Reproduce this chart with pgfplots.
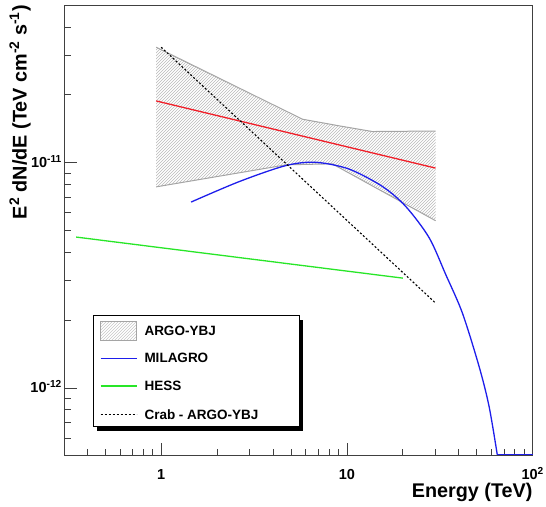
\documentclass[border=0pt]{standalone}
\usepackage{fontspec}
\setmainfont{Liberation Sans}
\usepackage{pgfplots}
\pgfplotsset{compat=1.18}
\usetikzlibrary{patterns}

\definecolor{argoRed}{RGB}{240,30,40}
\definecolor{milaBlue}{RGB}{30,30,235}
\definecolor{hessGreen}{RGB}{40,230,40}
\definecolor{bandGray}{RGB}{165,165,165}
\definecolor{hatchGray}{RGB}{185,185,185}

\begin{document}
\begin{tikzpicture}
\begin{axis}[
  xmode=log, ymode=log,
  scale only axis,
  width=468.7pt, height=450.7pt,
  xmin=0.3, xmax=100, ymin=5e-13, ymax=5e-11,
  clip mode=individual,
  axis line style={black!75, line width=0.8pt},
  tick style={black!75, line width=0.7pt},
  tick align=inside, tick pos=left,
  major tick length=13pt, minor tick length=7pt,
  xtick={1,10,100}, xticklabels={1,10,10\textsuperscript{2}},
  minor xtick={0.3,0.4,0.5,0.6,0.7,0.8,0.9,2,3,4,5,6,7,8,9,20,30,40,50,60,70,80,90},
  ytick={1e-12,1e-11}, yticklabels={10\textsuperscript{-12},10\textsuperscript{-11}},
  minor ytick={6e-13,7e-13,8e-13,9e-13,2e-12,3e-12,4e-12,5e-12,6e-12,7e-12,8e-12,9e-12,2e-11,3e-11,4e-11},
  tick label style={font=\bfseries\fontsize{14.5}{16}\selectfont, inner sep=0pt},
  xticklabel style={anchor=base, yshift=-23.6pt},
  yticklabel style={anchor=base east, xshift=-2pt, yshift=-5pt},
  xlabel={Energy (TeV)},
  ylabel={E\textsuperscript{2} dN/dE (TeV cm\textsuperscript{-2} s\textsuperscript{-1})},
  label style={font=\bfseries\fontsize{19.8}{21}\selectfont, inner sep=0pt},
  xlabel style={at={(axis description cs:1,0)}, anchor=north east, yshift=-27pt},
  ylabel style={at={(axis description cs:-0.0939,1)}, anchor=east},
]
\coordinate (bl) at (rel axis cs:0,0);
\coordinate (tr) at (rel axis cs:1,1);

% ARGO-YBJ error band (hatched)
\addplot[draw=none, pattern=north east lines, pattern color=hatchGray]
  coordinates {(0.94,3.25e-11) (5.77,1.557e-11) (9.09,1.455e-11) (13.7,1.373e-11) (30,1.38e-11)
               (30,5.52e-12) (8.34,9.87e-12) (4.72,9.77e-12) (0.94,7.80e-12)};
\addplot[bandGray, line width=1pt]
  coordinates {(0.94,3.25e-11) (5.77,1.557e-11) (9.09,1.455e-11) (13.7,1.373e-11) (30,1.38e-11)};
\addplot[bandGray, line width=1pt]
  coordinates {(0.94,7.80e-12) (4.72,9.77e-12) (8.34,9.87e-12) (30,5.52e-12)};

% ARGO-YBJ best fit
\addplot[argoRed, line width=1.3pt]
  coordinates {(0.94,1.877e-11) (30,9.45e-12)};

% MILAGRO
\addplot[milaBlue, line width=1.3pt, smooth]
  coordinates {(1.45,6.68e-12) (2.64,8.24e-12) (4.70,9.70e-12) (6.81,1.002e-11)
               (10.29,9.35e-12) (15.54,7.83e-12) (20.75,6.38e-12) (27.70,4.64e-12)
               (34.06,3.18e-12) (41.83,2.15e-12) (51.42,1.247e-12) (58.21,8.29e-13) (64.5,5.04e-13)};
\addplot[milaBlue, line width=1.3pt, clip=false]
  coordinates {(64.5,5.05e-13) (100,5.05e-13)};

% HESS
\addplot[hessGreen, line width=1.3pt]
  coordinates {(0.349,4.67e-12) (20,3.07e-12)};

% Crab - ARGO-YBJ
\addplot[black, line width=1.1pt, dash pattern=on 2pt off 2pt]
  coordinates {(1,3.25e-11) (30,2.38e-12)};
\end{axis}

% legend box with shadow
\begin{scope}[shift={(bl)}, font=\bfseries\fontsize{13.5}{15}\selectfont]
  \fill[black] (33.3pt,25pt) rectangle (239pt,136pt);
  \draw[black, line width=0.8pt, fill=white] (29.3pt,29pt) rectangle (235pt,140pt);
  \begin{scope}
    \clip (36.7pt,115.5pt) rectangle (72.7pt,134.5pt);
    \foreach \i in {0,...,19}
      \draw[hatchGray, line width=0.4pt] ({17.7pt+3pt*\i},115.5pt) -- ++(19pt,19pt);
  \end{scope}
  \draw[bandGray, line width=0.8pt] (36.7pt,115.5pt) rectangle (72.7pt,134.5pt);
  \draw[milaBlue, line width=1.3pt] (36.7pt,97.4pt) -- (72.7pt,97.4pt);
  \draw[hessGreen, line width=1.3pt] (36.7pt,69.7pt) -- (72.7pt,69.7pt);
  \draw[black, line width=1.1pt, dash pattern=on 2pt off 2pt] (36.7pt,41.4pt) -- (72.7pt,41.4pt);
  \node[anchor=west, inner sep=0pt] at (80.3pt,125pt) {ARGO-YBJ};
  \node[anchor=west, inner sep=0pt] at (80.3pt,97.4pt) {MILAGRO};
  \node[anchor=west, inner sep=0pt] at (80.3pt,69.7pt) {HESS};
  \node[anchor=west, inner sep=0pt] at (80.3pt,41.4pt) {Crab - ARGO-YBJ};
\end{scope}

\pgfresetboundingbox
\path ([xshift=-64pt,yshift=-50.3pt]bl) rectangle ([xshift=13.3pt,yshift=5pt]tr);
\end{tikzpicture}
\end{document}
